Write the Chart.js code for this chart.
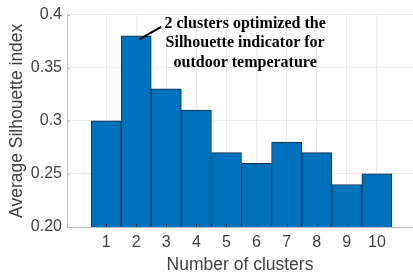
<!DOCTYPE html>
<html>
<head>
<meta charset="utf-8">
<script src="https://cdn.jsdelivr.net/npm/chart.js@4/dist/chart.umd.min.js"></script>
<style>
  html, body { margin: 0; padding: 0; background: #fff; }
  #wrap { width: 413px; height: 277px; }
</style>
</head>
<body>
<div id="wrap"><canvas id="silChart" width="413" height="277"></canvas></div>
<script>
// data
const clusters = [1, 2, 3, 4, 5, 6, 7, 8, 9, 10];
const silhouette = [0.30, 0.38, 0.33, 0.31, 0.27, 0.26, 0.28, 0.27, 0.24, 0.25];
const yTicks = [0.20, 0.25, 0.30, 0.35, 0.40];
const yTickLabels = ['0.20', '0.25', '0.3', '0.35', '0.4'];

// annotation text + pointer (in data units)
const noteLines = ['2 clusters optimized the', 'Silhouette indicator for', 'outdoor temperature'];
const noteAt = { x: 5.62, y: 0.3916 };
const arrowFrom = { x: 2.10, y: 0.3766 };
const arrowTo = { x: 2.83, y: 0.3885 };

const textGrey = '#404040';

const notePlugin = {
    id: 'note',
    afterDatasetsDraw(chart) {
        const ctx = chart.ctx;
        const xs = chart.scales.x, ys = chart.scales.y;
        const area = chart.chartArea;
        ctx.save();

        // small inward tick marks (matlab style)
        ctx.lineWidth = 1;
        ctx.strokeStyle = '#1b2b3b';
        xs.ticks.forEach(t => {
            const px = Math.round(xs.getPixelForValue(t.value)) + 0.5;
            ctx.beginPath();
            ctx.moveTo(px, area.bottom);
            ctx.lineTo(px, area.bottom - 3);
            ctx.stroke();
        });
        ctx.strokeStyle = '#bdbdbd';
        ys.ticks.forEach(t => {
            const py = Math.round(ys.getPixelForValue(t.value)) + 0.5;
            ctx.beginPath();
            ctx.moveTo(area.left, py);
            ctx.lineTo(area.left + 3, py);
            ctx.stroke();
        });

        ctx.strokeStyle = '#000';
        ctx.lineWidth = 2;
        ctx.beginPath();
        ctx.moveTo(xs.getPixelForValue(arrowFrom.x), ys.getPixelForValue(arrowFrom.y));
        ctx.lineTo(xs.getPixelForValue(arrowTo.x), ys.getPixelForValue(arrowTo.y));
        ctx.stroke();

        ctx.fillStyle = '#000';
        ctx.font = 'bold 16px "Liberation Serif", "Times New Roman", serif';
        ctx.textAlign = 'center';
        ctx.textBaseline = 'middle';
        const cx = xs.getPixelForValue(noteAt.x);
        const cy = ys.getPixelForValue(noteAt.y);
        noteLines.forEach((t, i) => ctx.fillText(t, cx, cy + i * 19.5));
        ctx.restore();
    }
};

document.addEventListener('DOMContentLoaded', function() {
    var ctx = document.getElementById('silChart').getContext('2d');
    var chart = new Chart(ctx, {
        type: 'bar',
        data: {
            datasets: [{
                data: clusters.map((c, i) => ({ x: c, y: silhouette[i] })),
                backgroundColor: '#0072BD',
                borderColor: '#1b2b3b',
                borderWidth: 1,
                barPercentage: 1,
                categoryPercentage: 1
            }]
        },
        options: {
            responsive: false,
            animation: false,
            events: [],
            layout: { padding: { top: 12, left: 0, right: 0, bottom: 0 } },
            plugins: { legend: { display: false }, tooltip: { enabled: false } },
            scales: {
                x: {
                    type: 'linear',
                    min: -0.3,
                    max: 11.2,
                    offset: false,
                    afterBuildTicks: s => { s.ticks = clusters.map(v => ({ value: v })); },
                    afterFit: s => { s.height = 50; },
                    ticks: {
                        color: textGrey,
                        font: { family: '"Liberation Sans", Arial, sans-serif', size: 16 },
                        padding: 6,
                        callback: v => String(v)
                    },
                    grid: { color: '#ebebeb', drawTicks: false, offset: false },
                    border: { color: '#bdbdbd' },
                    title: {
                        display: true,
                        text: 'Number of clusters',
                        color: textGrey,
                        font: { family: '"Liberation Sans", Arial, sans-serif', size: 17.5 },
                        padding: { top: 0, bottom: 1 }
                    }
                },
                y: {
                    min: 0.2,
                    max: 0.4,
                    afterBuildTicks: s => { s.ticks = yTicks.map(v => ({ value: v })); },
                    afterFit: s => { s.width = 67; },
                    ticks: {
                        color: textGrey,
                        font: { family: '"Liberation Sans", Arial, sans-serif', size: 16 },
                        padding: 5,
                        callback: (v, i) => yTickLabels[i]
                    },
                    grid: { color: '#ebebeb', drawTicks: false },
                    border: { color: '#bdbdbd' },
                    title: {
                        display: true,
                        text: 'Average Silhouette index',
                        color: textGrey,
                        font: { family: '"Liberation Sans", Arial, sans-serif', size: 17.5 },
                        padding: { top: 7, bottom: 0 }
                    }
                }
            }
        },
        plugins: [notePlugin]
    });
});
</script>
</body>
</html>
